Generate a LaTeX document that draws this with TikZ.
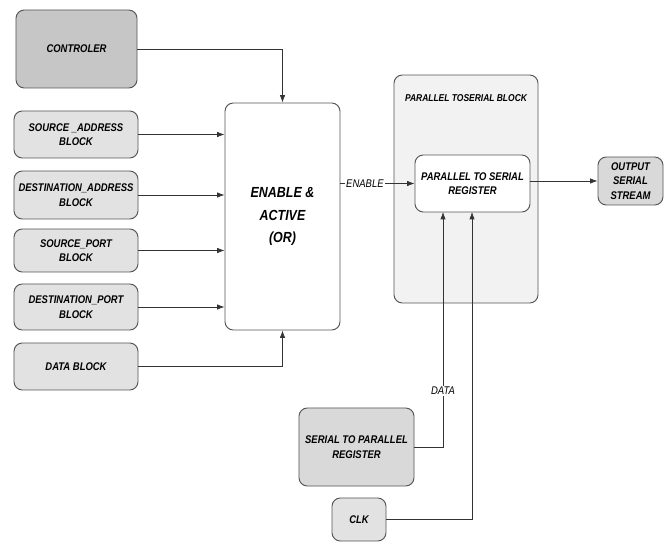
\documentclass[tikz,border=0pt]{standalone}
\usepackage{fontspec}
\newfontfamily\blockfont[FakeStretch=0.85]{Liberation Sans}
\usetikzlibrary{arrows.meta}

\definecolor{darkfill}{HTML}{C6C6C6}
\definecolor{lightfill}{HTML}{E2E2E2}
\definecolor{midfill}{HTML}{D9D9D9}
\definecolor{outerfill}{HTML}{F2F2F2}
\definecolor{edgegray}{HTML}{555555}

\tikzset{
  blk/.style={draw=edgegray, line width=0.8pt, rounded corners=0.25cm,
    align=center, inner sep=0pt,
    font=\blockfont\bfseries\itshape\fontsize{9.5}{12.5}\selectfont},
  arr/.style={-{Latex[length=2.2mm,width=1.6mm]}, line width=0.6pt, draw=black!80},
  sig/.style={fill=white, inner sep=1pt,
    font=\blockfont\itshape\fontsize{9.5}{11}\selectfont}
}

\begin{document}
\begin{tikzpicture}[x=0.03cm, y=-0.03cm]
  \useasboundingbox (0,0) rectangle (664,544);

  % input blocks
  \node [blk, fill=darkfill, minimum width=3.63cm, minimum height=2.34cm] (ctrl) at (76.5,49) {CONTROLER};
  \node [blk, fill=lightfill, minimum width=3.72cm, minimum height=1.41cm] (srcaddr) at (76,134.5) {SOURCE \_ADDRESS\\BLOCK};
  \node [blk, fill=lightfill, minimum width=3.72cm, minimum height=1.44cm] (dstaddr) at (76,195) {DESTINATION\_ADDRESS\\BLOCK};
  \node [blk, fill=lightfill, minimum width=3.72cm, minimum height=1.29cm] (srcport) at (76,250.5) {SOURCE\_PORT\\BLOCK};
  \node [blk, fill=lightfill, minimum width=3.72cm, minimum height=1.38cm] (dstport) at (76,307) {DESTINATION\_PORT\\BLOCK};
  \node [blk, fill=lightfill, minimum width=3.72cm, minimum height=1.41cm] (datablk) at (76,366.5) {DATA BLOCK};

  % enable box
  \node [blk, fill=white, minimum width=3.45cm, minimum height=6.81cm,
         font=\blockfont\bfseries\itshape\fontsize{12.5}{19.5}\selectfont] (enable) at (282.5,216.5) {ENABLE \&\\ACTIVE\\(OR)};

  % parallel to serial block
  \node [blk, fill=outerfill, minimum width=4.32cm, minimum height=6.84cm] (p2sblk) at (466,189) {};
  \node [font=\blockfont\bfseries\itshape\fontsize{8.5}{10}\selectfont] (p2slabel) at (466,98) {PARALLEL TOSERIAL BLOCK};
  \node [blk, fill=white, minimum width=3.45cm, minimum height=1.71cm] (p2sreg) at (472.5,183.5) {PARALLEL TO SERIAL\\REGISTER};

  % output and register inputs
  \node [blk, fill=midfill, minimum width=1.95cm, minimum height=1.44cm] (output) at (630.5,181) {OUTPUT\\SERIAL\\STREAM};
  \node [blk, fill=midfill, minimum width=3.45cm, minimum height=2.34cm] (s2p) at (356.5,447) {SERIAL TO PARALLEL\\REGISTER};
  \node [blk, fill=lightfill, minimum width=1.62cm, minimum height=1.29cm] (clk) at (359,519.5) {CLK};

  \coordinate (datain) at (443,212);
  \coordinate (clkin) at (472,212);

  % connectors
  \draw [arr] (ctrl.east) -| (enable.north);
  \draw [arr] (srcaddr.east) -- (srcaddr.east -| enable.west);
  \draw [arr] (dstaddr.east) -- (dstaddr.east -| enable.west);
  \draw [arr] (srcport.east) -- (srcport.east -| enable.west);
  \draw [arr] (dstport.east) -- (dstport.east -| enable.west);
  \draw [arr] (datablk.east) -| (enable.south);
  \draw [arr] (enable.east |- p2sreg.west) -- node [sig, pos=0.33] {ENABLE} (p2sreg.west);
  \draw [arr] (p2sreg.east |- output.west) -- (output.west);
  \draw [arr] (s2p.east) -| node [sig, pos=0.62] {DATA} (datain);
  \draw [arr] (clk.east) -| (clkin);

\end{tikzpicture}
\end{document}
